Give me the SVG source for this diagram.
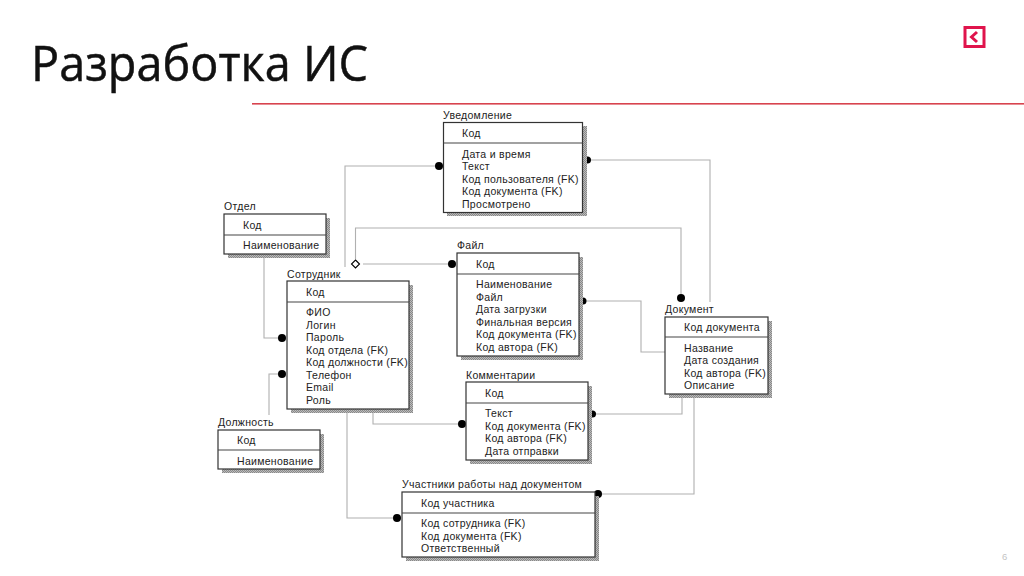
<svg xmlns="http://www.w3.org/2000/svg" width="1024" height="576" viewBox="0 0 1024 576">
<style>
text{font-family:"Liberation Sans",Arial,sans-serif;font-size:10.5px;letter-spacing:.3px;fill:#222}
.box{fill:#fff;stroke:#333;stroke-width:1.2}
.div{stroke:#444;stroke-width:1.2}
.sh{fill:url(#dith)}
.c{fill:none;stroke:#b0b0b0;stroke-width:1.1}
.dot{fill:#000}
</style>
<defs>
<pattern id="dith" width="2" height="2" patternUnits="userSpaceOnUse"><rect width="2" height="2" fill="#bbb"/><rect width="1" height="1" fill="#888"/><rect x="1" y="1" width="1" height="1" fill="#888"/></pattern>
</defs>
<rect width="1024" height="576" fill="#fff"/>
<text x="31" y="81" textLength="337" lengthAdjust="spacingAndGlyphs" style="font-family:'Open Sans',sans-serif;font-size:50px;letter-spacing:0;fill:#111;stroke:#111;stroke-width:.5">Разработка ИС</text>
<rect x="252" y="103" width="772" height="1.6" fill="#d8434e"/>
<g id="logo"><rect x="965" y="27.500" width="19" height="19" fill="none" stroke="#e0144c" stroke-width="3"/><path d="M977 32L971.500 37L977 42" fill="none" stroke="#e0144c" stroke-width="3"/></g>
<text x="1002" y="560" style="font-size:9.500px;fill:#c4c4c4;letter-spacing:0">6</text>
<g id="connectors">
<path class="c" d="M345 267V166H439"/>
<path class="c" d="M587 160H710V302"/>
<path class="c" d="M355.500 259V228H681V298"/>
<path class="c" d="M363 264H452" stroke-width="1.5"/>
<path class="c" d="M583 301H641V352H665"/>
<path class="c" d="M592 414H682V394"/>
<path class="c" d="M598 494H694V394"/>
<path class="c" d="M264 254V338H282"/>
<path class="c" d="M269 415V374H282"/>
<path class="c" d="M373 409V424H462"/>
<path class="c" d="M347 409V518H397"/>
<circle class="dot" cx="439" cy="166" r="4"/>
<circle class="dot" cx="587.500" cy="160" r="3.500"/>
<circle class="dot" cx="681" cy="298" r="4"/>
<circle class="dot" cx="452" cy="264" r="4"/>
<circle class="dot" cx="583" cy="301" r="3.500"/>
<circle class="dot" cx="592.500" cy="414" r="3.500"/>
<circle class="dot" cx="598" cy="494" r="4"/>
<circle class="dot" cx="282" cy="338" r="4"/>
<circle class="dot" cx="282" cy="374" r="4"/>
<circle class="dot" cx="462" cy="424" r="4"/>
<circle class="dot" cx="397" cy="518" r="4"/>
<path d="M355.500 260L359.500 264L355.500 268L351.500 264Z" fill="#fff" stroke="#000" stroke-width="1.1"/>
</g>
<g id="n-notif">
<rect class="sh" x="447" y="126" width="140" height="90"/><rect class="box" x="443.500" y="122.500" width="139" height="90"/><path class="div" d="M443.500 143H582.500"/>
<text x="443" y="119">Уведомление</text><text x="462" y="137">Код</text>
<text x="462" y="158">Дата и время</text><text x="462" y="170">Текст</text><text x="462" y="183">Код пользователя (FK)</text><text x="462" y="195">Код документа (FK)</text><text x="462" y="208">Просмотрено</text>
</g>
<g id="n-dept">
<rect class="sh" x="228" y="218" width="102" height="40"/><rect class="box" x="224" y="214" width="102" height="40"/><path class="div" d="M224 235H326"/>
<text x="224" y="210">Отдел</text><text x="243" y="229">Код</text><text x="243" y="249">Наименование</text>
</g>
<g id="n-emp">
<rect class="sh" x="291" y="285" width="122" height="128"/><rect class="box" x="287" y="281" width="122" height="128"/><path class="div" d="M287 302H409"/>
<text x="287" y="278">Сотрудник</text><text x="306" y="296">Код</text>
<text x="306" y="316">ФИО</text><text x="306" y="329">Логин</text><text x="306" y="341">Пароль</text><text x="306" y="354">Код отдела (FK)</text><text x="306" y="366">Код должности (FK)</text><text x="306" y="379">Телефон</text><text x="306" y="391">Email</text><text x="306" y="404">Роль</text>
</g>
<g id="n-file">
<rect class="sh" x="461" y="257" width="122" height="103"/><rect class="box" x="457" y="253" width="122" height="103"/><path class="div" d="M457 274H579"/>
<text x="457" y="249">Файл</text><text x="476" y="268">Код</text>
<text x="476" y="288">Наименование</text><text x="476" y="301">Файл</text><text x="476" y="313">Дата загрузки</text><text x="476" y="326">Финальная версия</text><text x="476" y="338">Код документа (FK)</text><text x="476" y="351">Код автора (FK)</text>
</g>
<g id="n-comm">
<rect class="sh" x="470" y="386" width="122" height="78"/><rect class="box" x="466" y="382" width="122" height="78"/><path class="div" d="M466 403H588"/>
<text x="466" y="379">Комментарии</text><text x="485" y="397">Код</text>
<text x="485" y="417">Текст</text><text x="485" y="430">Код документа (FK)</text><text x="485" y="442">Код автора (FK)</text><text x="485" y="455">Дата отправки</text>
</g>
<g id="n-doc">
<rect class="sh" x="669" y="321" width="103" height="77"/><rect class="box" x="665" y="317" width="103" height="77"/><path class="div" d="M665 337H768"/>
<text x="665" y="313">Документ</text><text x="684" y="331">Код документа</text>
<text x="684" y="352">Название</text><text x="684" y="364">Дата создания</text><text x="684" y="377">Код автора (FK)</text><text x="684" y="389">Описание</text>
</g>
<g id="n-pos">
<rect class="sh" x="222" y="434" width="102" height="39"/><rect class="box" x="218" y="430" width="102" height="39"/><path class="div" d="M218 450H320"/>
<text x="218" y="426">Должность</text><text x="237" y="444">Код</text><text x="237" y="465">Наименование</text>
</g>
<g id="n-part">
<rect class="sh" x="406" y="496" width="193" height="65"/><rect class="box" x="402" y="492" width="193" height="65"/><path class="div" d="M402 513H595"/>
<text x="402" y="488">Участники работы над документом</text><text x="421" y="507">Код участника</text>
<text x="421" y="527">Код сотрудника (FK)</text><text x="421" y="540">Код документа (FK)</text><text x="421" y="552">Ответственный</text>
</g>
</svg>
